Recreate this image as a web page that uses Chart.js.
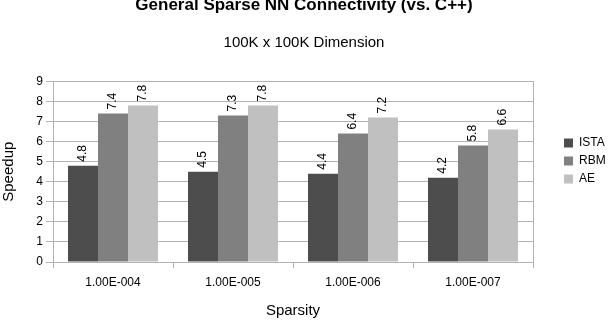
<!DOCTYPE html>
<html>
<head>
<meta charset="utf-8">
<title>General Sparse NN Connectivity</title>
<script src="https://cdn.jsdelivr.net/npm/chart.js@4.4.1/dist/chart.umd.min.js"></script>
<style>
  html, body { margin: 0; padding: 0; background: #fff; }
  #wrap { width: 608px; height: 322px; position: relative; }
</style>
</head>
<body>
<div id="wrap"><canvas id="myChart"></canvas></div>
<script>
// data
var sparsity = ['1.00E-004', '1.00E-005', '1.00E-006', '1.00E-007'];
var seriesNames = ['ISTA', 'RBM', 'AE'];
var ista = [4.8, 4.5, 4.4, 4.2];
var rbm = [7.4, 7.3, 6.4, 5.8];
var ae = [7.8, 7.8, 7.2, 6.6];
var yTicks = [0, 1, 2, 3, 4, 5, 6, 7, 8, 9];

var colors = ['#4d4d4d', '#808080', '#c0c0c0'];
var gridGray = '#b3b3b3';

Chart.defaults.font.family = "'Liberation Sans', Arial, sans-serif";
Chart.defaults.color = '#000';

// rotated value labels over each bar
var barValues = {
	id: 'barValues',
	afterDatasetsDraw: function(chart) {
		var ctx = chart.ctx;
		ctx.save();
		ctx.font = "12px 'Liberation Sans', Arial, sans-serif";
		ctx.fillStyle = '#000';
		ctx.textAlign = 'left';
		ctx.textBaseline = 'middle';
		chart.data.datasets.forEach(function(ds, i) {
			var meta = chart.getDatasetMeta(i);
			meta.data.forEach(function(bar, j) {
				ctx.save();
				ctx.translate(bar.x, bar.y - 4);
				ctx.rotate(-Math.PI / 2);
				ctx.fillText(ds.data[j].toFixed(1), 0, 0);
				ctx.restore();
			});
		});
		ctx.restore();
	}
};

var ctx = document.getElementById('myChart').getContext('2d');
var myBarChart = new Chart(ctx, {
	type: 'bar',
	data: {
		labels: sparsity,
		datasets: [
			{ label: seriesNames[0], data: ista, backgroundColor: colors[0] },
			{ label: seriesNames[1], data: rbm, backgroundColor: colors[1] },
			{ label: seriesNames[2], data: ae, backgroundColor: colors[2] }
		]
	},
	options: {
		responsive: true,
		maintainAspectRatio: false,
		animation: false,
		layout: { padding: 0 },
		datasets: {
			bar: { categoryPercentage: 0.75, barPercentage: 1.0 }
		},
		plugins: {
			title: {
				display: true,
				text: 'General Sparse NN Connectivity (vs. C++)',
				font: { size: 17, weight: 'bold' },
				color: '#000',
				padding: { top: -5, bottom: 18 }
			},
			subtitle: {
				display: true,
				text: '100K x 100K Dimension',
				font: { size: 15, weight: 'normal' },
				color: '#000',
				padding: { top: 0, bottom: 30 }
			},
			legend: {
				position: 'right',
				maxWidth: 50,
				labels: {
					boxWidth: 9,
					boxHeight: 9,
					padding: 6,
					font: { size: 12 },
					color: '#000'
				}
			},
			tooltip: { enabled: false }
		},
		scales: {
			x: {
				offset: true,
				grid: {
					offset: true,
					drawOnChartArea: false,
					color: gridGray,
					tickLength: 6
				},
				border: { color: gridGray },
				ticks: { font: { size: 12 }, padding: 7, color: '#000' },
				title: {
					display: true,
					text: 'Sparsity',
					font: { size: 15 },
					color: '#000',
					padding: { top: 0, bottom: 2 }
				},
				afterFit: function(scale) { scale.height = 60; }
			},
			y: {
				min: 0,
				max: 9,
				afterBuildTicks: function(scale) {
					scale.ticks = yTicks.map(function(v) { return { value: v }; });
				},
				grid: { color: gridGray, tickLength: 7 },
				border: { color: gridGray },
				ticks: { font: { size: 12 }, padding: 3, color: '#000' },
				title: {
					display: true,
					text: 'Speedup',
					font: { size: 15 },
					color: '#000',
					padding: { top: 0, bottom: 0 }
				},
				afterFit: function(scale) { scale.width = 53; }
			},
			// right edge of the plot box, also keeps the gap before the legend
			y2: {
				position: 'right',
				grid: { display: false, drawTicks: false },
				border: { display: true, color: gridGray },
				ticks: { display: false },
				afterFit: function(scale) { scale.width = 25; }
			}
		}
	},
	plugins: [barValues]
});
</script>
</body>
</html>
